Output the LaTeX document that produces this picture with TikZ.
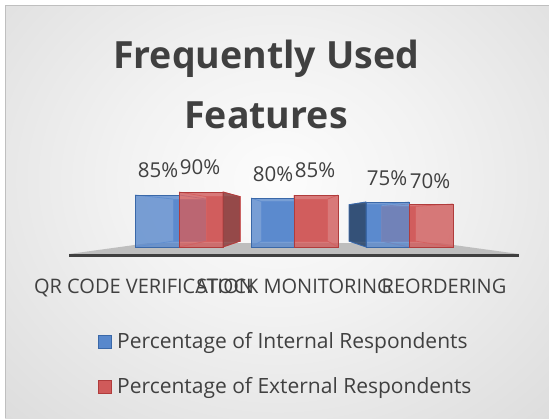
\documentclass[tikz,border=0pt]{standalone}
\usepackage{fontspec}
\setmainfont{Open Sans}
\definecolor{txt}{HTML}{404040}
\definecolor{bluefront}{HTML}{5888CC}
\definecolor{blueedge}{HTML}{3A68A8}
\definecolor{blueinner}{HTML}{86AAE0}
\definecolor{blueback}{HTML}{6A96D6}
\definecolor{blueside}{HTML}{2F4A6E}
\definecolor{redfront}{HTML}{D05A5A}
\definecolor{rededge}{HTML}{B03C3C}
\definecolor{redinner}{HTML}{E48080}
\definecolor{redback}{HTML}{D96A6A}
\definecolor{redside}{HTML}{8E4646}
\definecolor{floorgray}{HTML}{BEBEBE}
\definecolor{floordark}{HTML}{404040}
\pgfdeclareradialshading{bgshade}{\pgfpoint{0bp}{0bp}}{color(0bp)=(white!99!black); color(12bp)=(white!95!black); color(30bp)=(white!87!black); color(50bp)=(white!79!black)}
\newcommand\featback[4]{%
  \pgfmathsetmacro\fa{0.762*#1+70.1}%
  \pgfmathsetmacro\fb{0.762*#2+70.1}%
  \pgfmathsetmacro\ft{0.808*#3+41.5}%
  \def\fbot{241.1}%
  \filldraw[fill=#4back, draw=#4inner, line width=0.8pt] (\fa,\ft) rectangle (\fb,\fbot);
  \draw[#4inner, line width=0.8pt] (#1,#3) -- (\fa,\ft) (#2,#3) -- (\fb,\ft) (#1,247) -- (\fa,\fbot) (#2,247) -- (\fb,\fbot);
}
\newcommand\featfront[4]{%
  \filldraw[fill=#4front, fill opacity=0.8, draw=#4edge, line width=1pt] (#1,#3) rectangle (#2,247);
}
\tikzset{
  titletext/.style={font=\fontsize{37.5}{40}\selectfont\bfseries, text=txt, inner sep=0pt, anchor=base},
  datalabel/.style={font=\fontsize{20.5}{24}\selectfont, text=txt, inner sep=0pt, anchor=base},
  catlabel/.style={font=\fontsize{20}{24}\selectfont, text=txt, inner sep=0pt, anchor=base},
  legtext/.style={font=\fontsize{21}{24}\selectfont, text=txt, inner sep=0pt, anchor=base west},
  legkey/.style={minimum size=13pt, inner sep=0pt, line width=1pt}
}
\begin{document}
\begin{tikzpicture}[x=1pt,y=-1pt]
\useasboundingbox (0,0) rectangle (549,418);
\fill[white] (0,0) rectangle (549,418);
\begin{scope}
  \clip (5,5) rectangle (549,418);
  \shade[shading=bgshade] (-40,-90) rectangle (595,450);
\end{scope}
\draw[white!75!black, line width=1pt] (5,418) -- (5,5) -- (549,5);
% title
\node[titletext] (t1) at (266,68) {Frequently Used};
\node[titletext] (t2) at (266,128) {Features};
% floor
\fill[floorgray] (69,254) -- (149,243) -- (439,243) -- (519,254) -- cycle;
\draw[floordark, line width=3pt] (69,255.5) -- (519,255.5);
% back parts of all bars
\featback{135}{179}{195}{blue}
\featback{179}{223}{192}{red}
\featback{251}{294}{198}{blue}
\featback{294}{338}{195}{red}
\featback{366}{409}{202}{blue}
\featback{409}{453}{204}{red}
% front parts
\featfront{135}{179}{195}{blue}
\featfront{179}{223}{192}{red}
\filldraw[fill=redside, fill opacity=0.9, draw=rededge, line width=0.8pt] (223,192) -- (240,196.6) -- (240,241.1) -- (223,247) -- cycle;
\featfront{251}{294}{198}{blue}
\featfront{294}{338}{195}{red}
\filldraw[fill=blueside, fill opacity=0.9, draw=blueedge, line width=0.8pt] (366,202) -- (349,204.7) -- (349,241.1) -- (366,247) -- cycle;
\featfront{366}{409}{202}{blue}
\featfront{409}{453}{204}{red}
% data labels
\node[datalabel] (d1) at (158,177) {85\%};
\node[datalabel] (d2) at (200,174) {90\%};
\node[datalabel] (d3) at (273,181) {80\%};
\node[datalabel] (d4) at (315,177) {85\%};
\node[datalabel] (d5) at (387,185) {75\%};
\node[datalabel] (d6) at (430,188) {70\%};
% category labels
\node[catlabel] (c1) at (144,293) {QR CODE VERIFICATION};
\node[catlabel] (c2) at (294,293) {STOCK MONITORING};
\node[catlabel] (c3) at (444,293) {REORDERING};
% legend
\node[legkey, draw=blueedge, fill=bluefront] (k1) at (105,342) {};
\node[legtext] (l1) at (117,348) {Percentage of Internal Respondents};
\node[legkey, draw=rededge, fill=redfront] (k2) at (105,387) {};
\node[legtext] (l2) at (117,393) {Percentage of External Respondents};
\end{tikzpicture}
\end{document}
